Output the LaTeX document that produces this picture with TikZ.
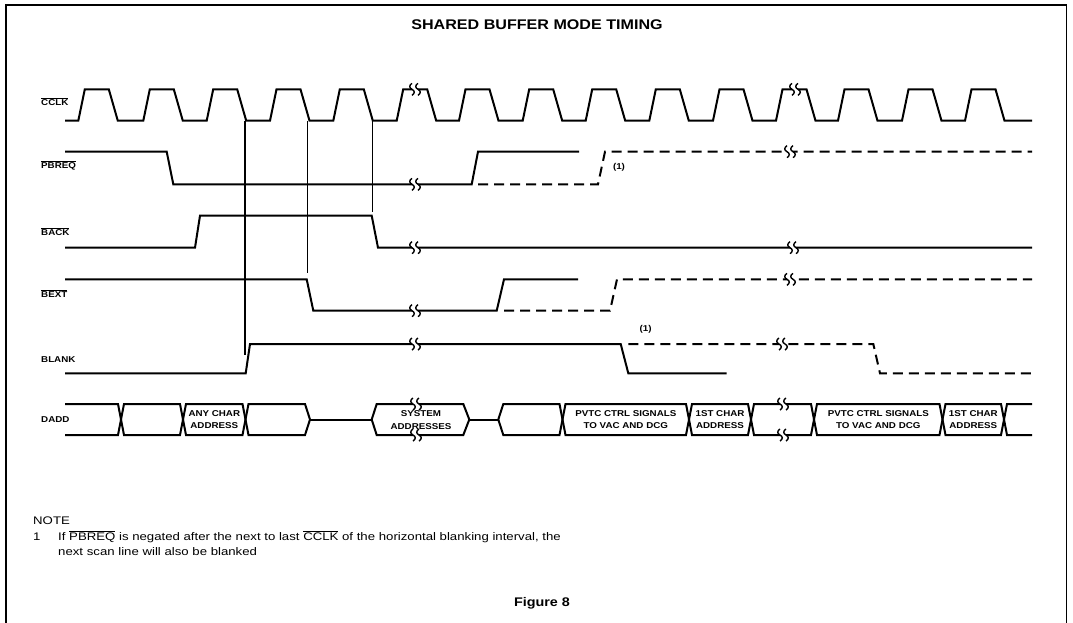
\documentclass[tikz,border=0pt]{standalone}
\usepackage{fontspec}
\setmainfont{Liberation Sans}[FakeStretch=1.15]
\newfontfamily\notefont{Liberation Sans}[FakeStretch=1.2]
\begin{document}
\begin{tikzpicture}[x=1pt,y=-1pt,
  sig/.style={line width=2pt},
  dsig/.style={line width=2pt, dash pattern=on 10pt off 6pt},
  guide/.style={line width=1.1pt},
  framel/.style={line width=1.3pt},
  lbl/.style={font=\fontsize{8.5}{10}\selectfont\bfseries, anchor=west, inner sep=0pt},
  boxtxt/.style={font=\fontsize{8.5}{12.2}\selectfont\bfseries, align=center, inner sep=0pt},
  notetxt/.style={font=\notefont\fontsize{11}{13}\selectfont, anchor=west, inner sep=0pt},
  brk/.pic={
    \fill[white] (-3.2,-2.6) rectangle (3.2,2.6);
    \draw[line width=1.4pt] (-3,-6) .. controls (-6,-4) and (-6,-1.5) .. (-3,0) .. controls (0,1.5) and (0,4) .. (-3,6);
    \draw[line width=1.4pt] (3,-6) .. controls (0,-4) and (0,-1.5) .. (3,0) .. controls (6,1.5) and (6,4) .. (3,6);
  }]
\useasboundingbox (0,0) rectangle (1073,622);
% frame
\draw[framel] (6,640) -- (6,5) -- (1066.7,5) -- (1066.7,640);
% title
\node[font=\fontsize{14}{16}\selectfont\bfseries, inner sep=0pt] (title) at (537,25) {SHARED BUFFER MODE TIMING};
% signal labels
\node[lbl] (lclk) at (41,102) {$\overline{\hbox{CCLK}}$};
\node[lbl] (lpbreq) at (41,165) {$\overline{\hbox{PBREQ}}$};
\node[lbl] (lback) at (41,231.7) {$\overline{\hbox{BACK}}$};
\node[lbl] (lbext) at (41,293.3) {$\overline{\hbox{BEXT}}$};
\node[lbl] (lblank) at (41,360) {BLANK};
\node[lbl] (ldadd) at (41,420) {DADD};
% guide lines
\draw[guide] (245,121) -- (245,355);
\draw[guide] (307.3,121) -- (307.3,273);
\draw[guide] (372.3,121) -- (372.3,212);
% CCLK
\draw[sig] (65,120.7) foreach \r in {78.3,143.3,206.7,270,333.3,396.7,459,522.7,585.7,649.3,713,776,838,902,965} { -- (\r,120.7) -- (\r+6.5,89.3) -- (\r+30.5,89.3) -- (\r+39.5,120.7) } -- (1032,120.7);
\pic at (415,89.3) {brk};
\pic at (795,89.3) {brk};
% PBREQ
\draw[sig] (65,151.7) -- (166.7,151.7) -- (173.3,184.3) -- (471.7,184.3) -- (478,151.7) -- (579,151.7);
\draw[dsig] (478,184.3) -- (598,184.3) -- (605,151.7) -- (1032,151.7);
\pic at (415,184.3) {brk};
\pic at (790,151.7) {brk};
\node[font=\fontsize{8.5}{10}\selectfont\bfseries, inner sep=0pt] (n1a) at (619,167) {(1)};
% BACK
\draw[sig] (65,247.7) -- (195,247.7) -- (200,215.7) -- (371.7,215.7) -- (378,247.7) -- (1032,247.7);
\pic at (415,247.7) {brk};
\pic at (793,247.7) {brk};
% BEXT
\draw[sig] (65,279.3) -- (306.7,279.3) -- (313.3,310.7) -- (496.7,310.7) -- (504,279.3) -- (578,279.3);
\draw[dsig] (504,310.7) -- (610,310.7) -- (617,279.3) -- (1032,279.3);
\pic at (415,310.7) {brk};
\pic at (790,279.3) {brk};
% BLANK
\draw[sig] (65,373.3) -- (245.7,373.3) -- (250,344) -- (620.7,344) -- (628.3,373.3) -- (726.7,373.3);
\draw[dsig] (628.3,344) -- (873.3,344) -- (880,373.3) -- (1032,373.3);
\pic at (415,344) {brk};
\pic at (782,344) {brk};
\node[font=\fontsize{8.5}{10}\selectfont\bfseries, inner sep=0pt] (n1b) at (645.7,329) {(1)};
% DADD bus
\def\T{404}\def\B{435}\def\M{419.5}
\draw[sig] (65,\T) -- (118,\T) -- (121,\M) -- (118,\B) -- (65,\B);
\foreach \a/\b in {121/183, 183/245.5, 562.5/689, 689/751, 751/814, 814/942.5, 942.5/1004}{
  \draw[sig] (\a,\M) -- (\a+3,\T) -- (\b-3,\T) -- (\b,\M) -- (\b-3,\B) -- (\a+3,\B) -- cycle;
}
\draw[sig] (245.5,\M) -- (248.5,\T) -- (305,\T) -- (310,\M) -- (305,\B) -- (248.5,\B) -- cycle;
\draw[sig] (310,\M) -- (371.7,\M);
\draw[sig] (371.7,\M) -- (376.7,\T) -- (463.3,\T) -- (469.3,\M) -- (463.3,\B) -- (376.7,\B) -- cycle;
\draw[sig] (469.3,\M) -- (498.3,\M);
\draw[sig] (498.3,\M) -- (503.3,\T) -- (559.5,\T) -- (562.5,\M) -- (559.5,\B) -- (503.3,\B) -- cycle;
\draw[sig] (1032,\T) -- (1007,\T) -- (1004,\M) -- (1007,\B) -- (1032,\B);
\pic at (416,\T) {brk};
\pic at (416,\B) {brk};
\pic at (783,\T) {brk};
\pic at (783,\B) {brk};
\node[boxtxt] (anychar) at (214.3,419.5) {ANY CHAR\\ADDRESS};
\node[boxtxt] (sysaddr) at (421,420) {SYSTEM\\ADDRESSES};
\node[boxtxt] (pvtc1) at (625.8,419.5) {PVTC CTRL SIGNALS\\TO VAC AND DCG};
\node[boxtxt] (first1) at (720,419.5) {1ST CHAR\\ADDRESS};
\node[boxtxt] (pvtc2) at (878.3,419.5) {PVTC CTRL SIGNALS\\TO VAC AND DCG};
\node[boxtxt] (first2) at (973.3,419.5) {1ST CHAR\\ADDRESS};
% note
\node[notetxt] (note) at (33,521) {NOTE};
\node[notetxt] (note1num) at (33,537) {1};
\node[notetxt] (note1) at (58,537) {If $\overline{\hbox{PBREQ}}$ is negated after the next to last $\overline{\hbox{CCLK}}$ of the horizontal blanking interval, the};
\node[notetxt] (note2) at (58,552) {next scan line will also be blanked};
% caption
\node[font=\fontsize{12.5}{14}\selectfont\bfseries, inner sep=0pt] (fig) at (542,603) {Figure 8};
\end{tikzpicture}
\end{document}
